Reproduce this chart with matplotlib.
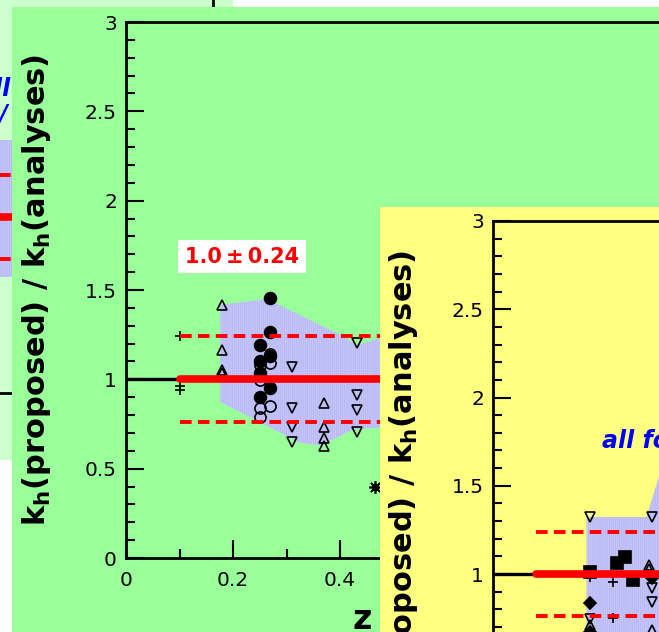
import matplotlib
matplotlib.use("Agg")
import matplotlib.pyplot as plt
from matplotlib.patches import Rectangle, Polygon
from matplotlib.ticker import MultipleLocator, FuncFormatter

plt.rcParams["font.family"] = ["DejaVu Sans"]
plt.rcParams["mathtext.fontset"] = "dejavusans"
plt.rcParams["hatch.linewidth"] = 0.5

# ---------------- data ----------------
mean_ratio = 1.0
spread = 0.24
y_ticks = [0, 0.5, 1, 1.5, 2, 2.5, 3]

# green panel: k_h(proposed)/k_h(analyses) against z
green_plus_z = [0.10, 0.10, 0.10]
green_plus_r = [1.244, 0.962, 0.940]
green_tri_up_z = [0.18, 0.18, 0.18, 0.18, 0.371, 0.371, 0.371, 0.371]
green_tri_up_r = [1.416, 1.164, 1.050, 1.035, 0.866, 0.735, 0.670, 0.627]
green_dot_z = [0.250, 0.250, 0.250, 0.250, 0.270, 0.270, 0.270, 0.270]
green_dot_r = [1.192, 1.104, 1.033, 0.903, 1.453, 1.267, 1.130, 0.949]
green_ring_z = [0.250, 0.250, 0.250, 0.250, 0.270, 0.270, 0.270]
green_ring_r = [1.080, 0.996, 0.838, 0.791, 1.142, 1.089, 0.851]
green_tri_dn_z = [0.310, 0.310, 0.310, 0.310, 0.431, 0.431, 0.431, 0.431]
green_tri_dn_r = [1.071, 0.838, 0.735, 0.651, 1.205, 0.912, 0.828, 0.707]
green_star_z = [0.466]
green_star_r = [0.397]
green_band_z = [0.176, 0.263, 0.400, 0.432, 0.475, 0.60, 0.60, 0.475, 0.425, 0.363, 0.325, 0.250, 0.176]
green_band_r = [1.416, 1.450, 1.250, 1.192, 1.231, 1.25, 0.73, 0.730, 0.720, 0.630, 0.645, 0.760, 0.873]
green_fit_start = 0.10

# yellow panel
yellow_tri_dn_z = [0.181, 0.297, 0.297, 0.297, 0.181]
yellow_tri_dn_r = [1.323, 1.323, 0.921, 0.841, 0.745]
yellow_tri_up_z = [0.292, 0.292, 0.181, 0.297]
yellow_tri_up_r = [1.050, 1.030, 0.712, 0.683]
yellow_sq_z = [0.181, 0.232, 0.247, 0.262]
yellow_sq_r = [1.010, 1.062, 1.096, 0.966]
yellow_diam_z = [0.181, 0.181, 0.297]
yellow_diam_r = [0.836, 0.670, 0.977]
yellow_plus_z = [0.181, 0.224, 0.224]
yellow_plus_r = [0.985, 0.955, 0.751]
yellow_band_z = [0.175, 0.175, 0.287, 0.310, 0.400, 0.600, 0.600]
yellow_band_r = [0.300, 1.323, 1.323, 1.550, 2.100, 2.100, 0.300]
yellow_fit_start = 0.08

# panel underneath
back_band_z = [0.55, 0.55, 0.80, 0.80]
back_band_r = [0.66, 1.44, 1.44, 0.66]
back_fit_start = 0.50

# ---------------- figure ----------------
W, H = 659, 632
fig = plt.figure(figsize=(W / 100, H / 100), dpi=100)
fig.patch.set_facecolor("white")

PALE = "#ccffcc"
GREEN = "#99ff99"
YELLOW = "#ffff80"
LILAC = "#c6c6fc"
STRIPE = "#b2b2f0"
RED = "#ff0000"


def box(x0, y0, x1, y1):
    """pixel box (origin top-left) -> figure fraction rect"""
    return [x0 / W, 1 - y1 / H, (x1 - x0) / W, (y1 - y0) / H]


def panel(x0, y0, x1, y1, color, z):
    l, b, w, h = box(x0, y0, x1, y1)
    fig.add_artist(Rectangle((l, b), w, h, transform=fig.transFigure,
                             facecolor=color, edgecolor="none", zorder=z))


def style(ax):
    ax.set_xlim(0, 1.0)
    ax.set_ylim(0, 3)
    ax.patch.set_visible(False)
    for s in ax.spines.values():
        s.set_linewidth(2.0)
    ax.yaxis.set_major_locator(MultipleLocator(0.5))
    ax.yaxis.set_minor_locator(MultipleLocator(0.1))
    ax.xaxis.set_major_locator(MultipleLocator(0.2))
    ax.xaxis.set_minor_locator(MultipleLocator(0.1))
    fmt = FuncFormatter(lambda v, p: f"{v:g}")
    ax.yaxis.set_major_formatter(fmt)
    ax.xaxis.set_major_formatter(fmt)
    ax.tick_params(which="both", direction="in", top=False, right=False, width=1.5)
    ax.tick_params(which="major", length=13, labelsize=14.5, pad=6.5)
    ax.tick_params(which="minor", length=6.5)
    ax.tick_params(axis="x", which="major", pad=9)
    ax.set_ylabel(r"k$_{\mathbf{h}}$(proposed) / k$_{\mathbf{h}}$(analyses)",
                  fontsize=22, fontweight="bold")
    ax.yaxis.set_label_coords(-0.168, 0.5)
    ax.yaxis.label.set_va("center")


def ratio_band(ax, bz, br, start):
    ax.add_patch(Polygon(list(zip(bz, br)), closed=True, facecolor=LILAC,
                         edgecolor=STRIPE, linewidth=0, hatch="||||||||", zorder=1))
    ax.plot([0, start], [mean_ratio, mean_ratio], color="black", lw=2.4, zorder=2.5)
    ax.plot([start, 1.0], [mean_ratio, mean_ratio], color=RED, lw=5.5,
            solid_capstyle="round", zorder=4)
    for r in (mean_ratio + spread, mean_ratio - spread):
        ax.plot([start, 1.0], [r, r], color=RED, lw=2.8, dashes=(3.0, 1.6), zorder=4)


mk = dict(linestyle="none", markeredgecolor="black", markeredgewidth=1.2, zorder=3)

# ---- panel underneath (pale) ----
panel(0, -2, 233, 460, PALE, 1)
ax_b = fig.add_axes(box(213 - 535, 393 - 528, 213, 393))
ax_b.set_zorder(2)
ax_b.set_xlim(0, 1.0)
ax_b.set_ylim(0, 3)
ax_b.patch.set_visible(False)
ax_b.set_xticks([])
ax_b.set_yticks([])
for s in ax_b.spines.values():
    s.set_linewidth(2.0)
ratio_band(ax_b, back_band_z, back_band_r, back_fit_start)
ax_b.text(0.623, 1.69, "all", color="#0000ff", fontsize=17, fontweight="bold",
          style="italic", ha="right", va="baseline")
ax_b.text(0.617, 1.545, "or /", color="#0000ff", fontsize=17, fontweight="bold",
          style="italic", ha="right", va="baseline")

# ---- green panel ----
panel(12, 7, 662, 634, GREEN, 3)
ax_g = fig.add_axes(box(126, 22, 661, 558))
ax_g.set_zorder(4)
style(ax_g)
ratio_band(ax_g, green_band_z, green_band_r, green_fit_start)
ax_g.plot(green_plus_z, green_plus_r, marker="+", markersize=7.5, color="black", **mk)
ax_g.plot(green_tri_up_z, green_tri_up_r, marker="^", markersize=6.8, markerfacecolor="none", **mk)
ax_g.plot(green_tri_dn_z, green_tri_dn_r, marker="v", markersize=6.8, markerfacecolor="none", **mk)
ax_g.plot(green_ring_z, green_ring_r, marker="o", markersize=8, markerfacecolor="none", **mk)
ax_g.plot(green_dot_z, green_dot_r, marker="o", markersize=8.5, markerfacecolor="black", **mk)
ax_g.plot(green_star_z, green_star_r, marker=(8, 2, 0), markersize=9, color="black", **mk)
ax_g.plot(green_star_z, green_star_r, marker="o", markersize=4, markerfacecolor="none", **mk)
ax_g.add_patch(Rectangle((0.0972, 1.595), 0.2392, 0.1845, facecolor="white",
                         edgecolor="none", zorder=5))
ax_g.text(0.2168, 1.684, f"{mean_ratio:.1f}\u2009\u00b1\u2009{spread:.2f}", color=RED,
          fontsize=15, fontweight="bold", ha="center", va="center", zorder=6)
ax_g.set_xlabel("z", fontsize=24, fontweight="bold")
ax_g.xaxis.set_label_coords(0.441, -0.1325)
ax_g.xaxis.label.set_va("baseline")

# ---- yellow panel ----
panel(380, 207, 662, 634, YELLOW, 5)
ax_y = fig.add_axes(box(493, 221, 493 + 535, 221 + 529.5))
ax_y.set_zorder(6)
style(ax_y)
ratio_band(ax_y, yellow_band_z, yellow_band_r, yellow_fit_start)
ax_y.plot(yellow_sq_z, yellow_sq_r, marker="s", markersize=8.5, markerfacecolor="black", **mk)
ax_y.plot(yellow_plus_z, yellow_plus_r, marker="+", markersize=7.5, color="black", **mk)
ax_y.plot(yellow_diam_z, yellow_diam_r, marker="D", markersize=6, markerfacecolor="black", **mk)
ax_y.plot(yellow_tri_dn_z, yellow_tri_dn_r, marker="v", markersize=6.8, markerfacecolor="none", **mk)
ax_y.plot(yellow_tri_up_z, yellow_tri_up_r, marker="^", markersize=6.8, markerfacecolor="none", **mk)
ax_y.text(0.204, 1.714, "all formulas", color="#0000ff", fontsize=17,
          fontweight="bold", style="italic", va="baseline")

fig.savefig("out.png", dpi=100)
